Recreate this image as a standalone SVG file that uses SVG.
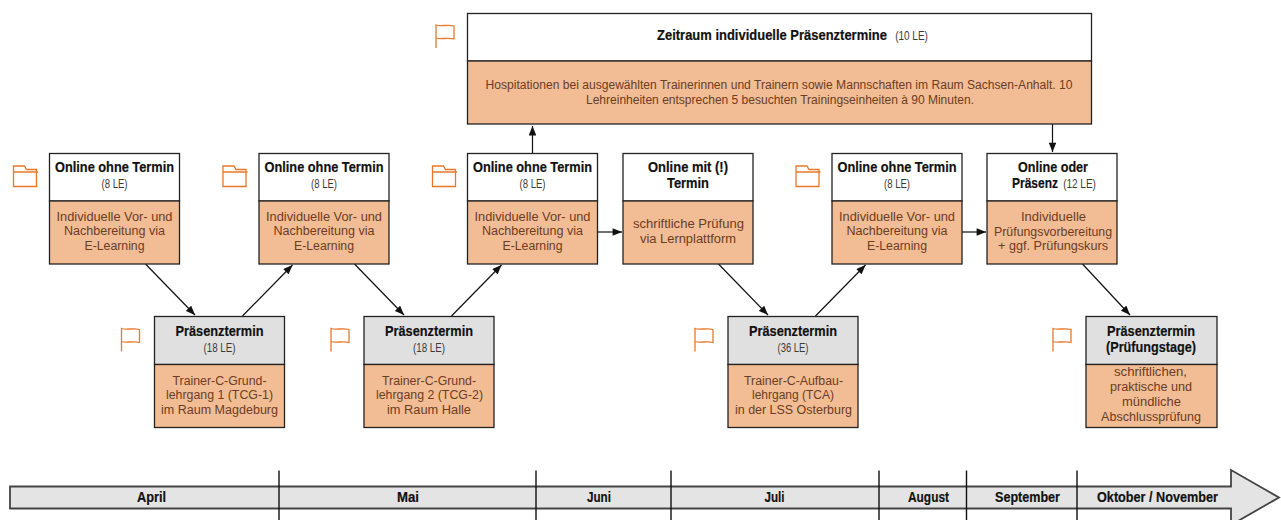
<svg xmlns="http://www.w3.org/2000/svg" width="1281" height="520" viewBox="0 0 1281 520">
<style>
text{text-anchor:middle}
.t{font:bold 15px "Liberation Sans",sans-serif;fill:#111;stroke:#111;stroke-width:.2}
.s{font:12.5px "Liberation Sans",sans-serif;fill:#3a3a3a}
.b{font:12.5px "Liberation Sans",sans-serif;fill:#6b3d24}
.m{font:bold 14.5px "Liberation Sans",sans-serif;fill:#111;stroke:#111;stroke-width:.2}
.w{fill:#fff;stroke:#222;stroke-width:1.3}
.g{fill:#e0e0e0;stroke:#222;stroke-width:1.3}
.o{fill:#f2bc94;stroke:#222;stroke-width:1.3}
.i{fill:none;stroke:#e8792b;stroke-width:1.3}
.c{stroke:#111;stroke-width:1.2;fill:none;marker-end:url(#a)}
</style>
<defs>
<marker id="a" viewBox="0 0 10 8" refX="10" refY="4" markerWidth="10" markerHeight="7.5" markerUnits="userSpaceOnUse" orient="auto"><path d="M0 0L10 4L0 8Z" fill="#111"/></marker>
<g id="folder"><path class="i" d="M0 6V0H11L13 3.500H23V20.500H0V6H24.500"/></g>
<g id="flag"><path class="i" d="M1 24V1C6 3 12 0 19 2V15C12 13 6 16 1 14"/></g>
</defs>
<g id="connectors">
<path class="c" d="M145.500 264L195 315"/>
<path class="c" d="M242.500 316L292.500 265"/>
<path class="c" d="M354.500 264L404 315"/>
<path class="c" d="M451.500 316L501.500 265"/>
<path class="c" d="M532.500 153V126"/>
<path class="c" d="M1052.500 124V152"/>
<path class="c" d="M598 232H622"/>
<path class="c" d="M718.500 264L768 315"/>
<path class="c" d="M815.500 316L865.500 265"/>
<path class="c" d="M962 232H986"/>
<path class="c" d="M1082.500 264L1130 315"/>
</g>
<g id="n-zeitraum">
<rect class="w" x="467.5" y="13.5" width="624" height="47.5"/><rect class="o" x="467.5" y="61" width="624" height="63"/>
<text class="t" transform="translate(772 40) scale(.865 1)">Zeitraum individuelle Präsenztermine</text><text class="s" transform="translate(911.500 40) scale(.8 1)">(10 LE)</text>
<text class="b" x="779" y="89" textLength="587" lengthAdjust="spacingAndGlyphs">Hospitationen bei ausgewählten Trainerinnen und Trainern sowie Mannschaften im Raum Sachsen-Anhalt. 10</text>
<text class="b" x="780" y="104" textLength="388" lengthAdjust="spacingAndGlyphs">Lehreinheiten entsprechen 5 besuchten Trainingseinheiten à 90 Minuten.</text>
<use href="#flag" x="435" y="24"/>
</g>
<g id="n-online1">
<rect class="w" x="49.5" y="153.5" width="130" height="47.5"/><rect class="o" x="49.5" y="201" width="130" height="63"/>
<text class="t" x="114.500" y="172" textLength="119" lengthAdjust="spacingAndGlyphs">Online ohne Termin</text><text class="s" x="114.500" y="188" textLength="26" lengthAdjust="spacingAndGlyphs">(8 LE)</text>
<text class="b" x="114.500" y="221" textLength="116" lengthAdjust="spacingAndGlyphs">Individuelle Vor- und</text><text class="b" x="114.500" y="235" textLength="101" lengthAdjust="spacingAndGlyphs">Nachbereitung via</text><text class="b" x="114.500" y="250" textLength="60" lengthAdjust="spacingAndGlyphs">E-Learning</text>
<use href="#folder" x="13.500" y="166"/>
</g>
<g id="n-online2">
<rect class="w" x="259" y="153.5" width="130" height="47.5"/><rect class="o" x="259" y="201" width="130" height="63"/>
<text class="t" x="324" y="172" textLength="119" lengthAdjust="spacingAndGlyphs">Online ohne Termin</text><text class="s" x="324" y="188" textLength="26" lengthAdjust="spacingAndGlyphs">(8 LE)</text>
<text class="b" x="324" y="221" textLength="116" lengthAdjust="spacingAndGlyphs">Individuelle Vor- und</text><text class="b" x="324" y="235" textLength="101" lengthAdjust="spacingAndGlyphs">Nachbereitung via</text><text class="b" x="324" y="250" textLength="60" lengthAdjust="spacingAndGlyphs">E-Learning</text>
<use href="#folder" x="223" y="166"/>
</g>
<g id="n-online3">
<rect class="w" x="467.5" y="153.5" width="130" height="47.5"/><rect class="o" x="467.5" y="201" width="130" height="63"/>
<text class="t" x="532.500" y="172" textLength="119" lengthAdjust="spacingAndGlyphs">Online ohne Termin</text><text class="s" x="532.500" y="188" textLength="26" lengthAdjust="spacingAndGlyphs">(8 LE)</text>
<text class="b" x="532.500" y="221" textLength="116" lengthAdjust="spacingAndGlyphs">Individuelle Vor- und</text><text class="b" x="532.500" y="235" textLength="101" lengthAdjust="spacingAndGlyphs">Nachbereitung via</text><text class="b" x="532.500" y="250" textLength="60" lengthAdjust="spacingAndGlyphs">E-Learning</text>
<use href="#folder" x="432.500" y="166"/>
</g>
<g id="n-onlinemit">
<rect class="w" x="623" y="153.5" width="130" height="47.5"/><rect class="o" x="623" y="201" width="130" height="63"/>
<text class="t" x="688" y="171.500" textLength="80" lengthAdjust="spacingAndGlyphs">Online mit (!)</text><text class="t" x="688" y="188" textLength="42" lengthAdjust="spacingAndGlyphs">Termin</text>
<text class="b" x="688.500" y="228" textLength="111" lengthAdjust="spacingAndGlyphs">schriftliche Prüfung</text><text class="b" x="688" y="243" textLength="96" lengthAdjust="spacingAndGlyphs">via Lernplattform</text>
</g>
<g id="n-online4">
<rect class="w" x="832" y="153.5" width="130" height="47.5"/><rect class="o" x="832" y="201" width="130" height="63"/>
<text class="t" x="897" y="172" textLength="119" lengthAdjust="spacingAndGlyphs">Online ohne Termin</text><text class="s" x="897" y="188" textLength="26" lengthAdjust="spacingAndGlyphs">(8 LE)</text>
<text class="b" x="897" y="221" textLength="116" lengthAdjust="spacingAndGlyphs">Individuelle Vor- und</text><text class="b" x="897" y="235" textLength="101" lengthAdjust="spacingAndGlyphs">Nachbereitung via</text><text class="b" x="897" y="250" textLength="60" lengthAdjust="spacingAndGlyphs">E-Learning</text>
<use href="#folder" x="796" y="166"/>
</g>
<g id="n-oderpraesenz">
<rect class="w" x="987" y="153.5" width="130" height="47.5"/><rect class="o" x="987" y="201" width="130" height="63"/>
<text class="t" x="1053" y="171.500" textLength="70" lengthAdjust="spacingAndGlyphs">Online oder</text><text class="t" transform="translate(1035 188) scale(.8 1)">Präsenz</text><text class="s" transform="translate(1079.500 188) scale(.8 1)">(12 LE)</text>
<text class="b" x="1053.500" y="221" textLength="65" lengthAdjust="spacingAndGlyphs">Individuelle</text><text class="b" x="1053" y="235.500" textLength="118" lengthAdjust="spacingAndGlyphs">Prüfungsvorbereitung</text><text class="b" x="1053" y="250" textLength="110" lengthAdjust="spacingAndGlyphs">+ ggf. Prüfungskurs</text>
</g>
<g id="n-praesenz1">
<rect class="g" x="154.5" y="316.5" width="130" height="48"/><rect class="o" x="154.5" y="364.500" width="130" height="63"/>
<text class="t" x="219.500" y="335.500" textLength="88" lengthAdjust="spacingAndGlyphs">Präsenztermin</text><text class="s" x="219.500" y="352" textLength="32" lengthAdjust="spacingAndGlyphs">(18 LE)</text>
<text class="b" x="219.500" y="385" textLength="94" lengthAdjust="spacingAndGlyphs">Trainer-C-Grund-</text><text class="b" x="219.500" y="399" textLength="107" lengthAdjust="spacingAndGlyphs">lehrgang 1 (TCG-1)</text><text class="b" x="219.500" y="414" textLength="117" lengthAdjust="spacingAndGlyphs">im Raum Magdeburg</text>
<use href="#flag" x="120.500" y="327.500"/>
</g>
<g id="n-praesenz2">
<rect class="g" x="364" y="316.5" width="130" height="48"/><rect class="o" x="364" y="364.500" width="130" height="63"/>
<text class="t" x="429" y="335.500" textLength="88" lengthAdjust="spacingAndGlyphs">Präsenztermin</text><text class="s" x="429" y="352" textLength="32" lengthAdjust="spacingAndGlyphs">(18 LE)</text>
<text class="b" x="429" y="385" textLength="94" lengthAdjust="spacingAndGlyphs">Trainer-C-Grund-</text><text class="b" x="429.500" y="399" textLength="107" lengthAdjust="spacingAndGlyphs">lehrgang 2 (TCG-2)</text><text class="b" x="429" y="414" textLength="84" lengthAdjust="spacingAndGlyphs">im Raum Halle</text>
<use href="#flag" x="330" y="327.500"/>
</g>
<g id="n-praesenz3">
<rect class="g" x="728" y="316.5" width="130" height="48"/><rect class="o" x="728" y="364.500" width="130" height="63"/>
<text class="t" x="793" y="335.500" textLength="88" lengthAdjust="spacingAndGlyphs">Präsenztermin</text><text class="s" x="793" y="352" textLength="31" lengthAdjust="spacingAndGlyphs">(36 LE)</text>
<text class="b" x="793.500" y="385" textLength="99" lengthAdjust="spacingAndGlyphs">Trainer-C-Aufbau-</text><text class="b" x="793" y="399" textLength="82" lengthAdjust="spacingAndGlyphs">lehrgang (TCA)</text><text class="b" x="793.500" y="414" textLength="117" lengthAdjust="spacingAndGlyphs">in der LSS Osterburg</text>
<use href="#flag" x="694" y="327.500"/>
</g>
<g id="n-pruefung">
<rect class="g" x="1086" y="316.5" width="131" height="48"/><rect class="o" x="1086" y="364.500" width="131" height="63"/>
<text class="t" x="1151" y="335.500" textLength="88" lengthAdjust="spacingAndGlyphs">Präsenztermin</text><text class="t" x="1151" y="352" textLength="90" lengthAdjust="spacingAndGlyphs">(Prüfungstage)</text>
<text class="b" x="1150.500" y="376" textLength="73" lengthAdjust="spacingAndGlyphs">schriftlichen,</text><text class="b" x="1151" y="391" textLength="82" lengthAdjust="spacingAndGlyphs">praktische und</text><text class="b" x="1151.500" y="406" textLength="59" lengthAdjust="spacingAndGlyphs">mündliche</text><text class="b" x="1151" y="421" textLength="100" lengthAdjust="spacingAndGlyphs">Abschlussprüfung</text>
<use href="#flag" x="1052" y="327.500"/>
</g>
<g id="timeline">
<path d="M10 486.500H1231V470L1279 497.500L1231 525V508.500H10Z" fill="#e4e4e4" stroke="#444" stroke-width="1.8"/>
<path d="M279 470.500V520M536 470.500V520M671 470.500V520M879 470.500V520M966.500 470.500V520M1077 470.500V520" stroke="#111" stroke-width="1.4"/>
<text class="m" x="151.500" y="502" textLength="29" lengthAdjust="spacingAndGlyphs">April</text><text class="m" x="408" y="502" textLength="22" lengthAdjust="spacingAndGlyphs">Mai</text><text class="m" x="599" y="502" textLength="24" lengthAdjust="spacingAndGlyphs">Juni</text><text class="m" x="774.500" y="502" textLength="20" lengthAdjust="spacingAndGlyphs">Juli</text><text class="m" x="928.500" y="502" textLength="41" lengthAdjust="spacingAndGlyphs">August</text><text class="m" x="1027.500" y="502" textLength="65" lengthAdjust="spacingAndGlyphs">September</text><text class="m" x="1157.500" y="502" textLength="121" lengthAdjust="spacingAndGlyphs">Oktober / November</text>
</g>
</svg>
